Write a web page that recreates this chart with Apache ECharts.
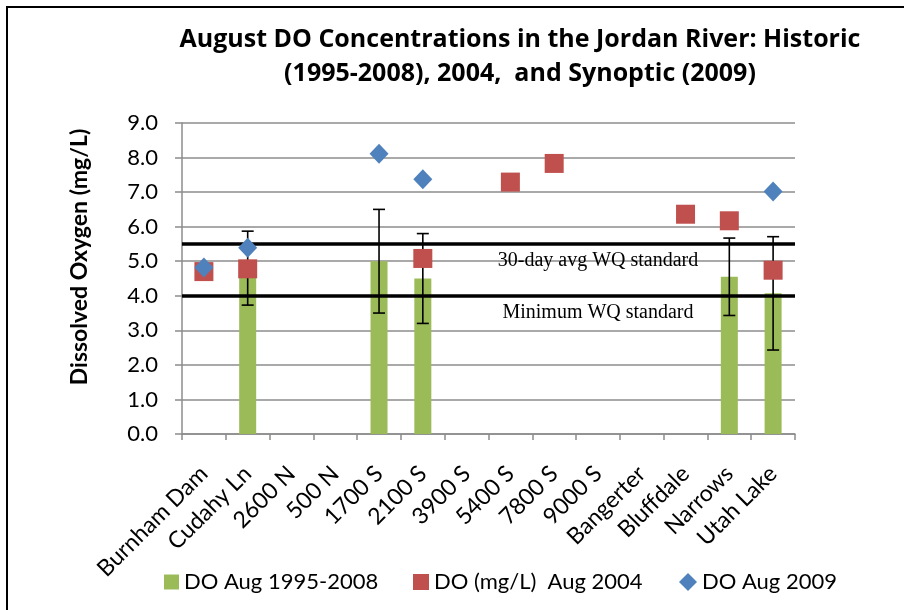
<!DOCTYPE html>
<html>
<head>
<meta charset="utf-8">
<script src="https://cdn.jsdelivr.net/npm/echarts@6/dist/echarts.min.js"></script>
<style>
html,body{margin:0;padding:0;background:#fff;}
#chart{width:904px;height:610px;}
</style>
</head>
<body>
<div id="chart"></div>
<script>
// ---- data ----
const categories = ['Burnham Dam','Cudahy Ln','2600 N','500 N','1700 S','2100 S','3900 S','5400 S','7800 S','9000 S','Bangerter','Bluffdale','Narrows','Utah Lake'];
const hist19952008 = [null, 4.8, null, null, 5.0, 4.5, null, null, null, null, null, null, 4.55, 4.07];
const hist19952008Err = [null, 1.07, null, null, 1.5, 1.3, null, null, null, null, null, null, 1.12, 1.64];
const do2004 = [4.7, 4.78, null, null, null, 5.08, null, 7.29, 7.83, null, null, 6.36, 6.17, 4.74];
const do2009 = [4.82, 5.39, null, null, 8.11, 7.37, null, null, null, null, null, null, null, 7.02];
const standard30Day = 5.5;
const standardMin = 4.0;
const standardLabelAt = '9000 S';
const yTicks = {min: 0, max: 9, interval: 1};
const seriesNames = ['DO Aug 1995-2008', 'DO (mg/L)  Aug 2004', 'DO Aug 2009'];
const titleText = 'August DO Concentrations in the Jordan River: Historic\n(1995-2008), 2004,  and Synoptic (2009)';

const errData = [];
hist19952008.forEach((v, i) => {
  if (v != null && hist19952008Err[i] != null) errData.push([i, v - hist19952008Err[i], v + hist19952008Err[i]]);
});

const FONT = 'Lato, "Open Sans", sans-serif';
const chart = echarts.init(document.getElementById('chart'), null, {renderer: 'canvas'});
const gridColor = '#8c8c8c';

chart.setOption({
  backgroundColor: '#fff',
  animation: false,
  title: {
    text: titleText,
    left: 515, top: 18, textAlign: 'center',
    textStyle: {fontFamily: '"Open Sans", Lato, sans-serif', fontWeight: 'bold', fontSize: 25, color: '#000', lineHeight: 34}
  },
  legend: [
    {data: [{name: seriesNames[0], icon: 'rect'}], left: 159, top: 566, itemWidth: 15, itemHeight: 15, itemGap: 0,
      textStyle: {fontFamily: FONT, fontSize: 22, color: '#000'}},
    {data: [{name: seriesNames[1], icon: 'rect'}], left: 408, top: 566, itemWidth: 16, itemHeight: 16, itemGap: 0,
      textStyle: {fontFamily: FONT, fontSize: 22, color: '#000'}},
    {data: [{name: seriesNames[2], icon: 'diamond'}], left: 674, top: 566, itemWidth: 18, itemHeight: 18, itemGap: 0,
      textStyle: {fontFamily: FONT, fontSize: 22, color: '#000'}}
  ],
  grid: {left: 182, right: 109, top: 123, bottom: 176, containLabel: false},
  xAxis: {
    type: 'category', data: categories, boundaryGap: true,
    axisLine: {lineStyle: {color: gridColor, width: 1.5}},
    axisTick: {show: true, length: 6, lineStyle: {color: gridColor, width: 1.5}},
    axisLabel: {rotate: 45, interval: 0, margin: 36, fontFamily: FONT, fontSize: 23, color: '#000'}
  },
  yAxis: {
    type: 'value', min: yTicks.min, max: yTicks.max, interval: yTicks.interval,
    axisLine: {show: true, lineStyle: {color: gridColor, width: 1.5}},
    axisTick: {show: true, length: 7, lineStyle: {color: gridColor, width: 1.5}},
    axisLabel: {formatter: v => v.toFixed(1), margin: 24, fontFamily: FONT, fontSize: 22, color: '#000'},
    splitLine: {lineStyle: {color: gridColor, width: 1.5}}
  },
  graphic: [
    {type: 'rect', shape: {x: 7, y: 7, width: 1200, height: 1200}, style: {fill: 'none', stroke: '#000', lineWidth: 2}, z: 100, silent: true},
    {type: 'text', x: 80, y: 257, rotation: Math.PI / 2,
      style: {text: 'Dissolved Oxygen (mg/L)', fontFamily: FONT, fontWeight: 'bold', fontSize: 23, fill: '#000', align: 'center', verticalAlign: 'middle'}}
  ],
  series: [
    {
      name: seriesNames[0], type: 'bar', data: hist19952008, barWidth: 17, z: 2,
      itemStyle: {color: '#9BBB59'}
    },
    {
      name: 'errors', type: 'custom', z: 3, data: errData,
      renderItem: function (params, api) {
        const i = api.value(0);
        const lo = api.coord([i, api.value(1)]);
        const hi = api.coord([i, api.value(2)]);
        const cap = 6;
        const st = {stroke: '#000', lineWidth: 1.6};
        return {type: 'group', children: [
          {type: 'line', shape: {x1: lo[0], y1: lo[1], x2: hi[0], y2: hi[1]}, style: st},
          {type: 'line', shape: {x1: lo[0] - cap, y1: lo[1], x2: lo[0] + cap, y2: lo[1]}, style: st},
          {type: 'line', shape: {x1: hi[0] - cap, y1: hi[1], x2: hi[0] + cap, y2: hi[1]}, style: st}
        ]};
      },
      markLine: {
        silent: true, symbol: 'none', label: {show: false},
        lineStyle: {color: '#000', width: 3.5, type: 'solid'},
        data: [{yAxis: standard30Day}, {yAxis: standardMin}]
      },
      markPoint: {
        silent: true, symbol: 'rect', symbolSize: 0,
        label: {show: true, position: 'bottom', distance: 7, color: '#000', fontFamily: '"Liberation Serif", "Times New Roman", serif', fontSize: 20,
          formatter: p => p.name},
        data: [
          {name: '30-day avg WQ standard', coord: [standardLabelAt, standard30Day]},
          {name: 'Minimum WQ standard', coord: [standardLabelAt, standardMin]}
        ]
      }
    },
    {
      name: seriesNames[1], type: 'scatter', data: do2004, symbol: 'rect', symbolSize: 19, z: 4,
      itemStyle: {color: '#C0504D', opacity: 1}
    },
    {
      name: seriesNames[2], type: 'scatter', data: do2009, symbol: 'diamond', symbolSize: [19, 20], z: 5,
      itemStyle: {color: '#4F81BD', opacity: 1}
    }
  ]
});
</script>
</body>
</html>
